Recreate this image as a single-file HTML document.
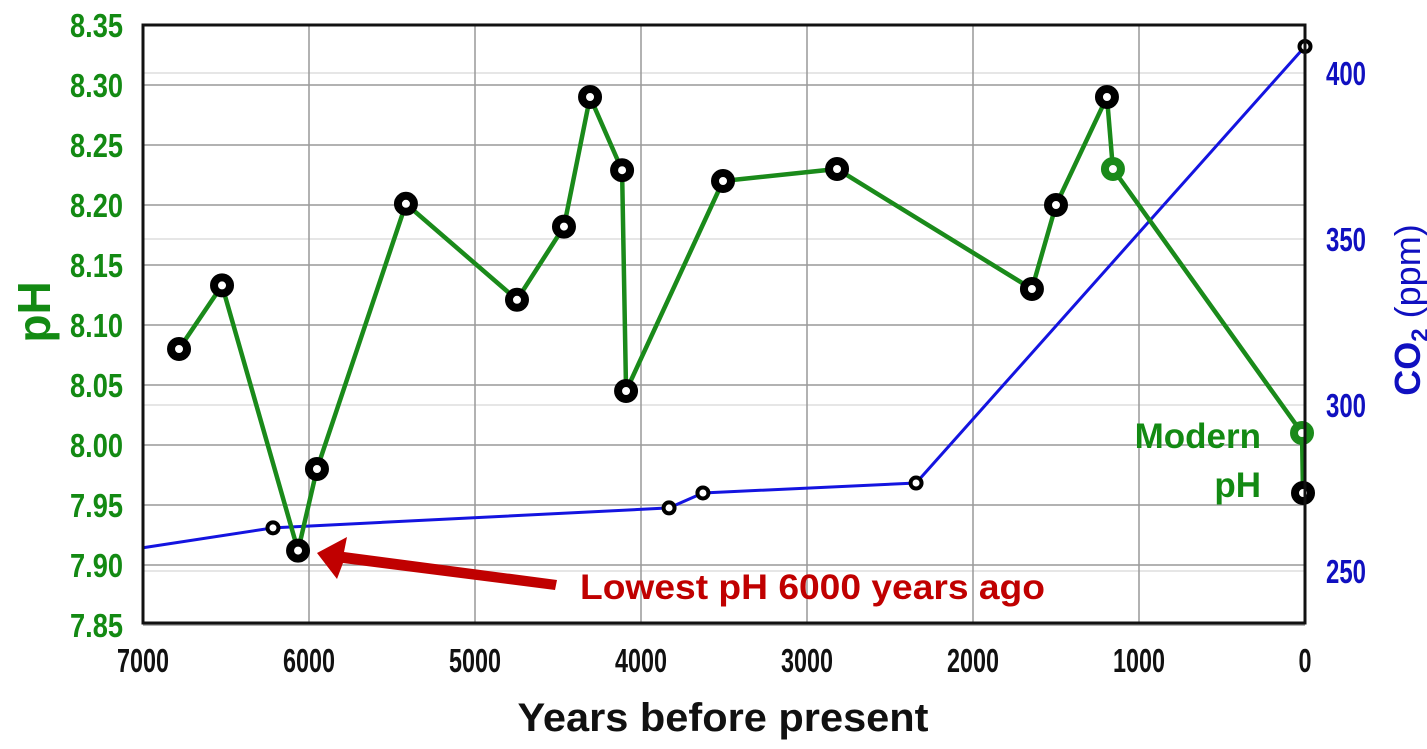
<!DOCTYPE html>
<html><head><meta charset="utf-8"><style>
body{margin:0;background:#fff;}
svg text{font-family:"Liberation Sans",sans-serif;font-weight:bold;}
</style></head><body>
<svg id="chart" width="1427" height="744" viewBox="0 0 1427 744">
<g id="grid"></g>
<g id="lines"></g>
<g id="marks"></g>
<g id="axes"></g>
<polygon fill="#c00000" points="317,553 347,537 344,552 557,580 555,590 343,563 337,579"/>
<text x="580" y="599" font-size="35" textLength="465" lengthAdjust="spacingAndGlyphs" fill="#c00000">Lowest pH 6000 years ago</text>
<text text-anchor="end" font-size="35" fill="#138a13"><tspan x="1261" y="448">Modern</tspan><tspan x="1261" y="497">pH</tspan></text>
<text x="723" y="731" text-anchor="middle" font-size="40" textLength="411" lengthAdjust="spacingAndGlyphs" fill="#111">Years before present</text>
<text transform="translate(50,312) rotate(-90)" text-anchor="middle" font-size="46" fill="#138a13">pH</text>
<text transform="translate(1420,310) rotate(-90)" text-anchor="middle" font-size="36" fill="#1010c0">CO<tspan font-size="24" dy="8">2</tspan><tspan dy="-8" font-weight="normal"> (ppm)</tspan></text>
</svg>
<script>
const phYears=[6783,6524,6066,5952,5416,4747,4464,4307,4114,4090,3506,2819,1645,1500,1193,1157,18];
const phValues=[8.08,8.133,7.912,7.98,8.201,8.121,8.182,8.29,8.229,8.045,8.22,8.23,8.13,8.20,8.29,8.23,8.01];
const phGreen=[false,false,false,false,false,false,false,false,false,false,false,false,false,false,false,true,true];
const modernYear=[12];
const modernPh=[7.96];
const co2Years=[7000,6217,3831,3627,2343,0];
const co2Values=[257,263,269,273.5,276.5,408];
const co2Marked=[false,true,true,true,true,true];
const xTicks=[7000,6000,5000,4000,3000,2000,1000,0];
const phTicks=["8.35","8.30","8.25","8.20","8.15","8.10","8.05","8.00","7.95","7.90","7.85"];
const co2Ticks=[250,300,350,400];

const L=143,R=1305,T=25,B=623;
const x=y=>R-(y/7000)*(R-L);
const yPh=v=>T+(8.35-v)/0.5*(625-25);
const yCo2=v=>73+(400-v)*3.32;
const NS="http://www.w3.org/2000/svg";
function mk(tag,parent,attrs){const e=document.createElementNS(NS,tag);for(const k in attrs)e.setAttribute(k,attrs[k]);document.getElementById(parent).appendChild(e);return e;}

co2Ticks.forEach(t=>{
  const l=mk('line','grid',{x1:L,x2:R,y1:yCo2(t),y2:yCo2(t),stroke:'#ddd','stroke-width':1.5});
  
  
});
xTicks.forEach(t=>{
  const l=mk('line','grid',{x1:x(t),x2:x(t),y1:T,y2:B,stroke:'#999','stroke-width':1.5});
  
  
  const s=String(t);
  const tx=mk('text','axes',{x:x(t),y:672,'text-anchor':'middle','font-size':33,fill:'#111',textLength:s.length*13,lengthAdjust:'spacingAndGlyphs'});
  tx.textContent=s;
  
  
});
phTicks.forEach(t=>{
  const v=parseFloat(t);
  const l=mk('line','grid',{x1:L,x2:R,y1:yPh(v),y2:yPh(v),stroke:'#999','stroke-width':1.5});
  
  
  const tx=mk('text','axes',{x:70,y:yPh(v)+12,'font-size':33,fill:'#138a13',textLength:53,lengthAdjust:'spacingAndGlyphs'});
  tx.textContent=t;
  
  
});
co2Ticks.forEach(t=>{
  const tx=mk('text','axes',{x:1326,y:yCo2(t)+12,'font-size':33,fill:'#1010c0',textLength:40,lengthAdjust:'spacingAndGlyphs'});
  tx.textContent=t;
  
  
});
const fr=mk('rect','axes',{x:L,y:T,width:R-L,height:B-T,fill:'none',stroke:'#111','stroke-width':3});



const co2Line=mk('polyline','lines',{points:co2Years.map((y,i)=>x(y)+','+yCo2(co2Values[i])).join(' '),fill:'none',stroke:'#1414e0','stroke-width':3});


const pts=phYears.map((y,i)=>[x(y),yPh(phValues[i])]).concat([[x(modernYear[0]),yPh(modernPh[0])]]);
const phLine=mk('polyline','lines',{points:pts.map(p=>p.join(',')).join(' '),fill:'none',stroke:'#1a8a1a','stroke-width':4.5});



co2Years.forEach((y,i)=>{
  if(!co2Marked[i])return;
  const c=mk('circle','marks',{cx:x(y),cy:yCo2(co2Values[i]),r:5.5,fill:'#fff',stroke:'#000','stroke-width':4});
  
  
});
phYears.forEach((y,i)=>{
  const c=mk('circle','marks',{cx:x(y),cy:yPh(phValues[i]),r:8,fill:'#fff',stroke:phGreen[i]?'#1a8a1a':'#000','stroke-width':8});
  
  
});
const mc=mk('circle','marks',{cx:x(modernYear[0]),cy:yPh(modernPh[0]),r:8,fill:'#fff',stroke:'#000','stroke-width':8});


</script>
</body></html>
